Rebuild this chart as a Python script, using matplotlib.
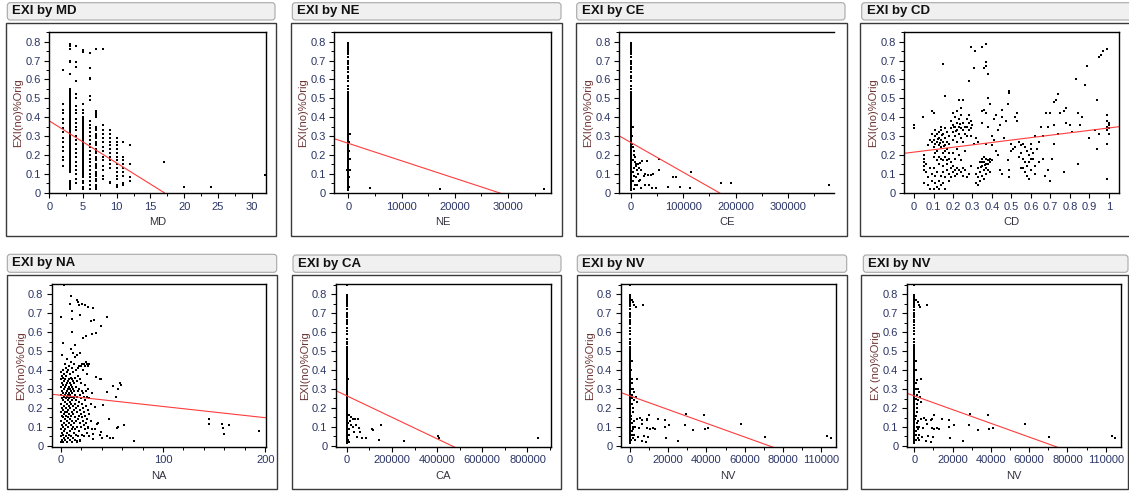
import matplotlib
matplotlib.use('Agg')
import matplotlib.pyplot as plt
from matplotlib.patches import FancyBboxPatch, Rectangle
from matplotlib.transforms import IdentityTransform
from matplotlib.ticker import MultipleLocator

# ---- data ----
y_ticks = [0, 0.1, 0.2, 0.3, 0.4, 0.5, 0.6, 0.7, 0.8]
y_tick_labels = ['0', '0.1', '0.2', '0.3', '0.4', '0.5', '0.6', '0.7', '0.8']

# EXI by MD: one list of EXI values per MD level
md_levels = [1, 2, 3, 4, 5, 6, 7, 8, 9, 10, 11, 12, 17, 20, 24, 32]
md_values = [
    [0.85],
    [0.14, 0.17, 0.19, 0.22, 0.24, 0.27, 0.29, 0.32, 0.34, 0.37, 0.39, 0.42, 0.44, 0.47, 0.65],
    [0.02, 0.03, 0.04, 0.05, 0.06, 0.11, 0.12, 0.13, 0.14, 0.15, 0.16, 0.17, 0.18, 0.19, 0.2,
     0.21, 0.22, 0.23, 0.24, 0.25, 0.26, 0.27, 0.28, 0.29, 0.3, 0.31, 0.32, 0.33, 0.34, 0.35,
     0.36, 0.37, 0.38, 0.39, 0.4, 0.41, 0.42, 0.43, 0.44, 0.45, 0.46, 0.47, 0.48, 0.49, 0.5,
     0.51, 0.52, 0.53, 0.54, 0.55, 0.63, 0.69, 0.7, 0.76, 0.775, 0.79],
    [0.05, 0.07, 0.1, 0.12, 0.14, 0.16, 0.19, 0.21, 0.23, 0.26, 0.28, 0.3, 0.33, 0.35, 0.37,
     0.39, 0.42, 0.44, 0.46, 0.5, 0.52, 0.59, 0.665, 0.69, 0.775],
    [0.02, 0.03, 0.05, 0.06, 0.08, 0.09, 0.1, 0.11, 0.12, 0.13, 0.14, 0.15, 0.16, 0.17, 0.18,
     0.19, 0.2, 0.21, 0.22, 0.23, 0.24, 0.25, 0.26, 0.27, 0.28, 0.29, 0.3, 0.31, 0.32, 0.33,
     0.34, 0.35, 0.36, 0.37, 0.38, 0.39, 0.4, 0.42, 0.44, 0.47, 0.745, 0.755],
    [0.02, 0.04, 0.06, 0.08, 0.1, 0.12, 0.14, 0.16, 0.18, 0.2, 0.22, 0.24, 0.26, 0.28, 0.3,
     0.32, 0.34, 0.36, 0.38, 0.49, 0.51, 0.6, 0.61, 0.66, 0.74],
    [0.02, 0.03, 0.04, 0.06, 0.07, 0.09, 0.1, 0.11, 0.13, 0.14, 0.15, 0.17, 0.18, 0.19, 0.21,
     0.22, 0.23, 0.25, 0.26, 0.27, 0.29, 0.3, 0.31, 0.33, 0.34, 0.35, 0.4, 0.41, 0.42, 0.43, 0.76],
    [0.07, 0.09, 0.12, 0.14, 0.17, 0.19, 0.22, 0.24, 0.27, 0.29, 0.31, 0.33, 0.36, 0.76],
    [0.05, 0.055, 0.13, 0.15, 0.17, 0.19, 0.21, 0.23, 0.25, 0.27, 0.29, 0.31, 0.33],
    [0.03, 0.04, 0.07, 0.09, 0.11, 0.13, 0.15, 0.17, 0.19, 0.21, 0.23, 0.25, 0.27, 0.29],
    [0.04, 0.05, 0.09, 0.11, 0.13, 0.15, 0.17, 0.19, 0.27],
    [0.06, 0.08, 0.15, 0.25],
    [0.16],
    [0.03],
    [0.03],
    [0.095],
]

# EXI values of the dense column sitting at (almost) zero on NE, CE, CA and NV
col_y = [0.015, 0.02, 0.025, 0.03, 0.037, 0.043, 0.05, 0.056, 0.062, 0.07, 0.076, 0.083, 0.09,
         0.097, 0.103, 0.11, 0.117, 0.123, 0.13, 0.137, 0.144, 0.15, 0.157, 0.163, 0.17, 0.177,
         0.184, 0.19, 0.197, 0.204, 0.21, 0.217, 0.224, 0.23, 0.237, 0.244, 0.25, 0.257, 0.264,
         0.27, 0.277, 0.284, 0.29, 0.297, 0.304, 0.31, 0.317, 0.324, 0.33, 0.337, 0.344, 0.35,
         0.357, 0.364, 0.37, 0.377, 0.384, 0.39, 0.397, 0.404, 0.41, 0.417, 0.424, 0.43, 0.437,
         0.444, 0.45, 0.458, 0.466, 0.474, 0.483, 0.492, 0.5, 0.51, 0.52, 0.535, 0.55, 0.565,
         0.59, 0.605, 0.62, 0.64, 0.655, 0.665, 0.68, 0.69, 0.7, 0.72, 0.735, 0.745, 0.755,
         0.765, 0.775, 0.785, 0.795, 0.85]

ne_x = [150, 200, 250, 300, 180, 220, 280, -300, 4000, 17200, 36800]
ne_y = [0.03, 0.08, 0.12, 0.18, 0.22, 0.27, 0.31, 0.12, 0.023, 0.018, 0.018]

ce_x = [4000, 5000, 6000, 7000, 4500, 8000, 5500, 9000, 3000, 6000, 4000, 7000, 5000, 10000,
        12000, 14000, 16000, 18000, 20000, 22000, 9000, 11000, 17000, 20000, 31000, 27000,
        33000, 39000, 43000, 35000, 40000, 48000, 54000, 54000, 71000, 81000, 86000, 94000,
        113000, 114000, 172000, 191000, 379000, 2000, 3000, 2500, 13000, 15000, 24000, 26000]
ce_y = [0.24, 0.22, 0.2, 0.19, 0.17, 0.16, 0.13, 0.15, 0.11, 0.09, 0.06, 0.04, 0.02, 0.14,
        0.12, 0.15, 0.13, 0.155, 0.12, 0.165, 0.085, 0.04, 0.067, 0.023, 0.168, 0.1,
        0.094, 0.094, 0.099, 0.04, 0.026, 0.023, 0.177, 0.12, 0.028, 0.08, 0.085, 0.028,
        0.026, 0.11, 0.053, 0.05, 0.039, 0.3, 0.35, 0.26, 0.1, 0.06, 0.09, 0.04]

cd_x = [0.10, 0.11, 0.11, 0.12, 0.12, 0.12, 0.13, 0.13, 0.13, 0.13, 0.14, 0.14, 0.14, 0.14,
        0.15, 0.15, 0.15, 0.15, 0.16, 0.16, 0.16, 0.16, 0.17, 0.17, 0.17, 0.17, 0.12, 0.11,
        0.10, 0.10, 0.13, 0.15, 0.17, 0.18, 0.18, 0.18, 0.11, 0.14, 0.09, 0.09, 0.16, 0.125,
        0.145, 0.155, 0.135,
        0.19, 0.19, 0.20, 0.20, 0.20, 0.21, 0.21, 0.21, 0.22, 0.22, 0.22, 0.23, 0.23, 0.23,
        0.24, 0.24, 0.24, 0.24, 0.25, 0.25, 0.25, 0.26, 0.26, 0.23, 0.22, 0.20, 0.25, 0.215,
        0.235, 0.205,
        0.27, 0.27, 0.28, 0.28, 0.28, 0.29, 0.29, 0.29, 0.30, 0.27, 0.28, 0.307, 0.295, 0.312,
        0.05, 0.06, 0.06, 0.07, 0.07, 0.08, 0.08, 0.09, 0.09, 0.10, 0.10, 0.11, 0.11, 0.12,
        0.12, 0.13, 0.13, 0.14, 0.14, 0.15, 0.15, 0.16, 0.16, 0.17, 0.18, 0.18, 0.19, 0.19,
        0.20, 0.20, 0.21, 0.21, 0.22, 0.22, 0.23, 0.24, 0.25, 0.25, 0.26, 0.27, 0.28, 0.29,
        0.19, 0.21, 0.23, 0.18, 0.20, 0.22, 0.26, 0.24,
        0.05, 0.05, 0.05, 0.05, 0.05, 0.048, 0.08, 0.07, 0.09, 0.10,
        0.32, 0.32, 0.33, 0.33, 0.33, 0.34, 0.34, 0.34, 0.35, 0.35, 0.35, 0.36, 0.36, 0.36,
        0.37, 0.37, 0.37, 0.37, 0.38, 0.38, 0.38, 0.39, 0.39, 0.39, 0.40, 0.36, 0.35, 0.345,
        0.365, 0.385,
        0.31, 0.32, 0.33, 0.35, 0.35, 0.36, 0.37, 0.38, 0.38, 0.39, 0.40, 0.40, 0.41, 0.42,
        0.43, 0.44, 0.45, 0.45, 0.46, 0.47, 0.48, 0.49, 0.49, 0.42, 0.43, 0.44, 0.45, 0.48,
        0.49, 0.49, 0.41, 0.37,
        0.36, 0.37, 0.37, 0.38, 0.35, 0.37, 0.15, 0.16, 0.20,
        0.50, 0.50, 0.51, 0.52, 0.52, 0.53, 0.53, 0.54, 0.55, 0.55, 0.56, 0.56, 0.56, 0.57,
        0.57, 0.57, 0.58, 0.58, 0.58, 0.59, 0.59, 0.59, 0.60, 0.60, 0.60, 0.61, 0.61, 0.62,
        0.62, 0.55, 0.54, 0.60, 0.63, 0.64,
        0.65, 0.66, 0.66, 0.67, 0.68, 0.69, 0.69, 0.70, 0.71, 0.72, 0.72, 0.73, 0.74, 0.74,
        0.75, 0.77, 0.77, 0.78, 0.80, 0.81, 0.83, 0.84, 0.84, 0.85, 0.86, 0.88, 0.89, 0.90,
        0.62, 0.64, 0.70, 0.72, 0.78,
        0.93, 0.94, 0.94, 0.95, 0.95, 0.96, 0.97, 0.99, 0.99, 0.99, 0.99, 0.99, 0.99, 0.99,
        1.0, 1.0, 1.0, 1.0, 0.0, 0.0]
cd_y = [0.28, 0.30, 0.26, 0.31, 0.27, 0.22, 0.32, 0.29, 0.25, 0.19, 0.33, 0.28, 0.24, 0.18,
        0.31, 0.27, 0.21, 0.17, 0.34, 0.29, 0.25, 0.19, 0.32, 0.27, 0.23, 0.17, 0.17, 0.21,
        0.24, 0.19, 0.15, 0.14, 0.15, 0.30, 0.26, 0.21, 0.33, 0.35, 0.27, 0.31, 0.22, 0.285,
        0.305, 0.245, 0.265,
        0.34, 0.38, 0.32, 0.36, 0.42, 0.30, 0.35, 0.40, 0.33, 0.37, 0.43, 0.31, 0.35, 0.39,
        0.29, 0.34, 0.41, 0.45, 0.33, 0.37, 0.49, 0.31, 0.35, 0.49, 0.27, 0.28, 0.27, 0.325,
        0.365, 0.345,
        0.35, 0.39, 0.33, 0.37, 0.41, 0.34, 0.38, 0.30, 0.36, 0.30, 0.59, 0.66, 0.77, 0.75,
        0.05, 0.11, 0.15, 0.04, 0.08, 0.02, 0.13, 0.06, 0.10, 0.02, 0.13, 0.05, 0.09, 0.03,
        0.11, 0.06, 0.02, 0.04, 0.09, 0.05, 0.11, 0.02, 0.08, 0.12, 0.06, 0.10, 0.13, 0.08,
        0.11, 0.14, 0.09, 0.12, 0.13, 0.10, 0.12, 0.11, 0.13, 0.09, 0.12, 0.08, 0.10, 0.14,
        0.16, 0.18, 0.20, 0.18, 0.21, 0.23, 0.22, 0.17,
        0.12, 0.14, 0.16, 0.18, 0.20, 0.40, 0.28, 0.25, 0.43, 0.42,
        0.05, 0.10, 0.04, 0.13, 0.08, 0.06, 0.11, 0.16, 0.09, 0.14, 0.18, 0.12, 0.16, 0.07,
        0.10, 0.15, 0.18, 0.13, 0.17, 0.12, 0.15, 0.16, 0.18, 0.11, 0.17, 0.19, 0.16, 0.135,
        0.145, 0.175,
        0.26, 0.29, 0.27, 0.37, 0.43, 0.44, 0.42, 0.35, 0.50, 0.47, 0.30, 0.25, 0.39, 0.41,
        0.33, 0.36, 0.40, 0.44, 0.29, 0.38, 0.47, 0.54, 0.53, 0.22, 0.20, 0.12, 0.10, 0.17,
        0.12, 0.08, 0.28, 0.26,
        0.66, 0.69, 0.67, 0.63, 0.77, 0.79, 0.68, 0.51, 0.85,
        0.22, 0.26, 0.23, 0.24, 0.40, 0.42, 0.38, 0.27, 0.25, 0.21, 0.26, 0.18, 0.13, 0.24,
        0.16, 0.11, 0.22, 0.14, 0.09, 0.20, 0.16, 0.07, 0.26, 0.23, 0.12, 0.18, 0.21, 0.14,
        0.10, 0.13, 0.19, 0.18, 0.23, 0.16,
        0.35, 0.30, 0.18, 0.09, 0.42, 0.35, 0.12, 0.06, 0.18, 0.36, 0.26, 0.49, 0.52, 0.31,
        0.42, 0.43, 0.11, 0.45, 0.36, 0.32, 0.60, 0.42, 0.15, 0.36, 0.40, 0.57, 0.67, 0.29,
        0.30, 0.27, 0.42, 0.48, 0.37,
        0.33, 0.49, 0.23, 0.31, 0.72, 0.73, 0.75, 0.76, 0.41, 0.38, 0.35, 0.33, 0.26, 0.07,
        0.34, 0.37, 0.31, 0.36, 0.34, 0.36]

# EXI by NA: one list of EXI values per NA count in the dense part, plus scattered points
na_levels = list(range(0, 31))
na_values = [
    [0.02, 0.05, 0.09, 0.13, 0.18, 0.22, 0.27, 0.31, 0.35, 0.39, 0.68],
    [0.03, 0.07, 0.11, 0.16, 0.2, 0.25, 0.29, 0.33, 0.37, 0.48],
    [0.02, 0.06, 0.1, 0.15, 0.19, 0.24, 0.28, 0.32, 0.36, 0.4, 0.54],
    [0.04, 0.08, 0.12, 0.17, 0.21, 0.26, 0.3, 0.34, 0.38, 0.85],
    [0.03, 0.09, 0.14, 0.18, 0.23, 0.27, 0.31, 0.35, 0.43],
    [0.05, 0.11, 0.16, 0.2, 0.25, 0.28, 0.32, 0.37, 0.41],
    [0.02, 0.07, 0.13, 0.18, 0.22, 0.26, 0.29, 0.33, 0.39, 0.46],
    [0.04, 0.1, 0.15, 0.19, 0.24, 0.27, 0.3, 0.34, 0.4],
    [0.06, 0.12, 0.17, 0.21, 0.25, 0.28, 0.31, 0.35, 0.42],
    [0.03, 0.08, 0.14, 0.2, 0.23, 0.27, 0.3, 0.33, 0.38, 0.75],
    [0.05, 0.11, 0.16, 0.22, 0.26, 0.29, 0.32, 0.36, 0.44, 0.51, 0.79],
    [0.02, 0.09, 0.13, 0.18, 0.24, 0.28, 0.31, 0.35, 0.41, 0.6, 0.67, 0.71],
    [0.04, 0.1, 0.17, 0.21, 0.26, 0.3, 0.34, 0.39, 0.49],
    [0.07, 0.12, 0.19, 0.25, 0.29, 0.33, 0.43],
    [0.03, 0.09, 0.15, 0.22, 0.27, 0.36, 0.47, 0.53],
    [0.06, 0.13, 0.2, 0.24, 0.31, 0.4],
    [0.02, 0.1, 0.18, 0.26, 0.34, 0.48, 0.77],
    [0.05, 0.14, 0.21, 0.29, 0.37, 0.41, 0.76],
    [0.08, 0.16, 0.23, 0.3, 0.42, 0.74],
    [0.03, 0.12, 0.19, 0.27, 0.35, 0.49, 0.69],
    [0.1, 0.17, 0.25, 0.33, 0.42],
    [0.06, 0.15, 0.22, 0.29, 0.43, 0.75],
    [0.13, 0.2, 0.28, 0.4, 0.57],
    [0.05, 0.11, 0.18, 0.26, 0.43],
    [0.09, 0.16, 0.24, 0.32, 0.42, 0.74],
    [0.12, 0.21, 0.29, 0.44],
    [0.07, 0.14, 0.26, 0.38, 0.43],
    [0.1, 0.19, 0.3, 0.42, 0.73],
    [0.05, 0.17, 0.25, 0.43],
    [0.13, 0.22, 0.66],
    [0.09, 0.28, 0.59],
]
na_x = [34, 38, 39, 45, 33, 41, 51, 58, 59, 56, 54, 47, 56, 55, 62, 51, 48, 45, 39, 38, 35,
        33, 27, 31, 21, 19, 16, 31, 72, 45, 39, 34, 31, 32, 25, 36, 40,
        145, 145, 158, 159, 160, 165, 194]
na_y = [0.364, 0.355, 0.35, 0.285, 0.206, 0.218, 0.316, 0.329, 0.32, 0.302, 0.258, 0.144, 0.1,
        0.095, 0.109, 0.042, 0.042, 0.05, 0.074, 0.06, 0.118, 0.088, 0.095, 0.065, 0.056,
        0.026, 0.025, 0.035, 0.026, 0.677, 0.633, 0.596, 0.728, 0.666, 0.578, 0.12, 0.04,
        0.144, 0.118, 0.118, 0.095, 0.062, 0.109, 0.079]

ca_x = [10000, 17600, 26400, 36600, 48300, 29300, 39600, 33700, 44000, 54200, 58600, 68900,
        85000, 112800, 117200, 150900, 143600, 253400, 405800, 410200, 846800, 5000, 8000,
        12000, 6000, 15000, 20000, 9000, 4000]
ca_y = [0.165, 0.153, 0.144, 0.144, 0.144, 0.1, 0.109, 0.074, 0.047, 0.095, 0.074, 0.042,
        0.042, 0.091, 0.086, 0.109, 0.033, 0.026, 0.051, 0.042, 0.042, 0.12, 0.09,
        0.06, 0.03, 0.13, 0.11, 0.02, 0.35]

nv_x = [3500, 1700, 2400, 3000, 3500, 2000, 3500, 5200, 6100, 2500, 4500, 6500, 2600, 4000,
        6100, 7300, 8700, 9000, 10100, 9000, 10500, 12000, 13000, 9500, 8500, 14600, 18100,
        18100, 18800, 20600, 25300, 29100, 28700, 33000, 38600, 39200, 40900, 58000, 70500,
        103200, 105000, 1000, 1800, 2400, 3200, 6700,
        600, 900, 1200, 700, 1500, 1000, 800, 1300, 600, 900, 1100, 1400, 500, 1600, 1200,
        1800, 2000, 1700, 1300, 1000, 2200]
nv_y = [0.355, 0.3, 0.285, 0.258, 0.232, 0.24, 0.144, 0.148, 0.135, 0.1, 0.095, 0.118, 0.03,
        0.045, 0.025, 0.051, 0.135, 0.144, 0.162, 0.095, 0.091, 0.095, 0.09, 0.047, 0.021,
        0.144, 0.135, 0.1, 0.042, 0.109, 0.026, 0.17, 0.109, 0.083, 0.162, 0.091, 0.095,
        0.118, 0.047, 0.051, 0.042, 0.768, 0.76, 0.742, 0.733, 0.742,
        0.03, 0.08, 0.12, 0.16, 0.2, 0.25, 0.3, 0.35, 0.4, 0.45, 0.06, 0.1, 0.14, 0.18, 0.22,
        0.09, 0.13, 0.04, 0.27, 0.33, 0.06]

# fitted lines (intercept, slope) as drawn in each panel
fit_md = (0.38, -0.02235)
fit_ne = (0.261, -9.26e-6)
fit_ce = (0.265, -1.577e-6)
fit_cd = (0.2145, 0.128)
fit_na = (0.267, -5.91e-4)
fit_ca = (0.264, -5.66e-7)
fit_nv = (0.264, -3.62e-6)

# ---- drawing ----
W, H = 1129, 491
plt.rcParams['font.family'] = ['Liberation Sans', 'DejaVu Sans']
fig = plt.figure(figsize=(W / 100, H / 100), dpi=100)

TICK_COL = '#2b3566'


def fig_box(l, t, r, b):
    return [l / W, 1 - b / H, (r - l) / W, (b - t) / H]


def draw_panel(ax_px, frame_px, head_px, title, xlabel, xs, ys, xlim, xmajor, xlabels,
               xminor, fit, ylabel='EXI(no)%Orig', right=True, minor_on=True):
    l, t, r, b = head_px
    fig.add_artist(FancyBboxPatch((l, H - b), r - l, b - t,
                                  boxstyle='round,pad=0,rounding_size=3',
                                  transform=IdentityTransform(),
                                  fc='#f0f0f0', ec='#a8a8a8', lw=0.8))
    fig.text((l + 5) / W, 1 - (t + b) / 2 / H, title, fontsize=9.5,
             fontweight='bold', va='center', ha='left', color='#111111')
    l, t, r, b = frame_px
    fig.add_artist(Rectangle((l, H - b), r - l, b - t, transform=IdentityTransform(),
                             fill=False, ec='#3a3a3a', lw=1))

    ax = fig.add_axes(fig_box(*ax_px))
    ax.scatter(xs, ys, s=3.8, marker='s', c='black', linewidths=0)
    a, k = fit
    ax.plot(xlim, [a + k * xlim[0], a + k * xlim[1]], color='#ff3c3c', lw=0.8)
    ax.set_xlim(xlim)
    ax.set_ylim(-0.004, 0.853)

    ax.set_xticks(xmajor)
    ax.set_xticklabels(xlabels)
    if minor_on:
        ax.xaxis.set_minor_locator(MultipleLocator(xminor))
    ax.set_yticks(y_ticks)
    ax.set_yticklabels(y_tick_labels)
    ax.yaxis.set_minor_locator(MultipleLocator(0.05))
    ax.tick_params(which='major', direction='out', length=3.5, width=0.8,
                   labelsize=8, labelcolor=TICK_COL, pad=2.5)
    ax.tick_params(which='minor', direction='out', length=2, width=0.7)
    for side, sp in ax.spines.items():
        sp.set_linewidth(1)
        sp.set_color('black')
    if not right:
        ax.spines['right'].set_visible(False)

    w_px = ax_px[2] - ax_px[0]
    h_px = ax_px[3] - ax_px[1]
    ax.set_xlabel(xlabel, fontsize=8, color='#333340', va='center')
    ax.xaxis.set_label_coords(0.5, -29 / h_px)
    ax.set_ylabel(ylabel, fontsize=8, color='#6e3535', va='center')
    ax.yaxis.set_label_coords(-31 / w_px, 0.5)
    return ax


# EXI by MD
md_x = []
md_y = []
for lev, vals in zip(md_levels, md_values):
    md_x += [lev] * len(vals)
    md_y += vals
draw_panel((49.3, 31.7, 265.7, 193.3), (5.7, 22.7, 276.3, 236), (7.3, 2.7, 275, 20),
           'EXI by MD', 'MD', md_x, md_y, (0, 32.1), [0, 5, 10, 15, 20, 25, 30],
           ['0', '5', '10', '15', '20', '25', '30'], 2.5, fit_md)

# EXI by NE
draw_panel((334.3, 31.7, 550.7, 193.3), (290.7, 22.7, 561.7, 236), (292.3, 2.7, 561, 20),
           'EXI by NE', 'NE', [0] * len(col_y) + ne_x, col_y + ne_y, (-2630, 38000),
           [0, 10000, 20000, 30000], ['0', '10000', '20000', '30000'], 5000, fit_ne)

# EXI by CE
draw_panel((619.3, 31.7, 834, 193.3), (575.7, 22.7, 846.7, 236), (576.7, 2.7, 845, 20),
           'EXI by CE', 'CE', [0] * len(col_y) + ce_x, col_y + ce_y, (-22300, 388000),
           [0, 100000, 200000, 300000], ['0', '100000', '200000', '300000'], 50000,
           fit_ce, right=False)

# EXI by CD
draw_panel((904.3, 31.7, 1119.3, 193.3), (860, 22.7, 1140, 236), (861.7, 2.7, 1140, 20),
           'EXI by CD', 'CD', cd_x, cd_y, (-0.05, 1.054),
           [0, 0.1, 0.2, 0.3, 0.4, 0.5, 0.6, 0.7, 0.8, 0.9, 1.0],
           ['0', '0.1', '0.2', '0.3', '0.4', '0.5', '0.6', '0.7', '0.8', '0.9', '1'],
           0.1, fit_cd, minor_on=False)

# EXI by NA
na_px = []
na_py = []
for lev, vals in zip(na_levels, na_values):
    na_px += [lev] * len(vals)
    na_py += vals
draw_panel((51.7, 284, 265.7, 446.7), (6.7, 275, 276.7, 489), (7.3, 254.3, 276.7, 272.3),
           'EXI by NA', 'NA', na_px + na_x, na_py + na_y, (-9, 200.5), [0, 100, 200],
           ['0', '100', '200'], 20, fit_na)

# EXI by CA
draw_panel((335.7, 284, 550.7, 446.7), (291.7, 275, 561, 489), (293, 255, 561, 272.3),
           'EXI by CA', 'CA', [0] * len(col_y) + ca_x, col_y + ca_y, (-49000, 903000),
           [0, 200000, 400000, 600000, 800000],
           ['0', '200000', '400000', '600000', '800000'], 100000, fit_ca)

# EXI by NV (shown twice)
nv_ticks = [0, 20000, 40000, 60000, 80000, 100000]
nv_labels = ['0', '20000', '40000', '60000', '80000', '110000']
draw_panel((620.7, 284, 835.7, 446.7), (576.7, 275, 846.7, 489), (577.3, 255, 846.7, 272.3),
           'EXI by NV', 'NV', [0] * len(col_y) + nv_x, col_y + nv_y, (-4800, 107500),
           nv_ticks, nv_labels, 10000, fit_nv)
draw_panel((906.7, 284.3, 1120.7, 446.7), (861, 275, 1128, 489), (863.3, 255, 1128, 272.3),
           'EXI by NV', 'NV', [0] * len(col_y) + nv_x, col_y + nv_y, (-4000, 107800),
           nv_ticks, nv_labels, 10000, fit_nv, ylabel='EX (no)%Orig')

fig.savefig('out.png', dpi=100)
